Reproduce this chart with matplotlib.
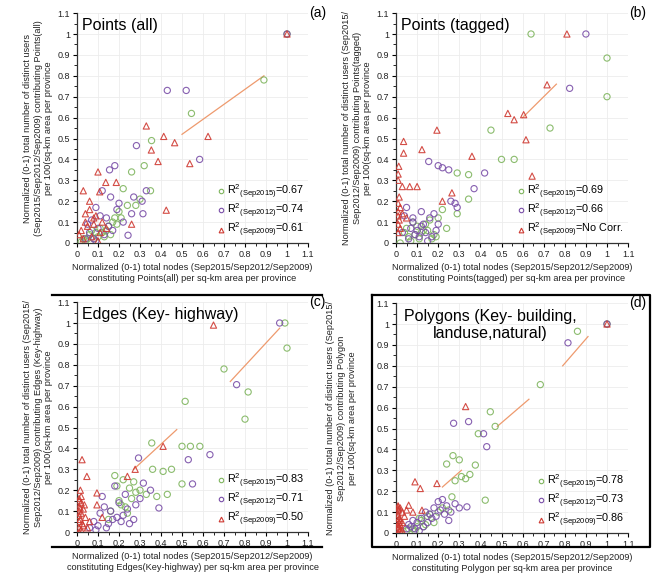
import matplotlib
matplotlib.use("Agg")
import matplotlib.pyplot as plt
from matplotlib.lines import Line2D
import numpy as np

plt.rcParams['font.family'] = ['Liberation Sans', 'DejaVu Sans']
plt.rcParams['mathtext.fontset'] = 'custom'
plt.rcParams['mathtext.rm'] = 'Liberation Sans'
plt.rcParams['mathtext.it'] = 'Liberation Sans'

# ---------------- data ----------------
tick_vals = [0, 0.1, 0.2, 0.3, 0.4, 0.5, 0.6, 0.7, 0.8, 0.9, 1.0, 1.1]
tick_labels = ['0', '0.1', '0.2', '0.3', '0.4', '0.5', '0.6', '0.7', '0.8', '0.9', '1', '1.1']

# Panel (a) Points (all)
a_g_x = [1.0, 0.89, 0.545, 0.355, 0.32, 0.26, 0.22, 0.35, 0.30, 0.28, 0.20, 0.18, 0.15, 0.12, 0.10, 0.08, 0.14, 0.17, 0.21, 0.06, 0.05, 0.11, 0.13, 0.09, 0.04, 0.02, 0.16, 0.24, 0.19, 0.07, 0.03]
a_g_y = [1.0, 0.78, 0.62, 0.49, 0.37, 0.34, 0.26, 0.25, 0.21, 0.18, 0.15, 0.12, 0.08, 0.05, 0.03, 0.02, 0.06, 0.10, 0.12, 0.04, 0.02, 0.07, 0.03, 0.05, 0.01, 0.005, 0.04, 0.18, 0.09, 0.06, 0.02]
a_p_x = [1.0, 0.52, 0.43, 0.283, 0.584, 0.18, 0.155, 0.33, 0.27, 0.31, 0.26, 0.314, 0.243, 0.20, 0.16, 0.12, 0.09, 0.08, 0.14, 0.10, 0.06, 0.05, 0.11, 0.13, 0.22, 0.17, 0.04, 0.07, 0.19, 0.15, 0.09]
a_p_y = [1.0, 0.73, 0.73, 0.466, 0.40, 0.37, 0.35, 0.25, 0.22, 0.20, 0.14, 0.14, 0.037, 0.19, 0.22, 0.25, 0.17, 0.02, 0.12, 0.07, 0.05, 0.09, 0.13, 0.04, 0.10, 0.06, 0.02, 0.11, 0.16, 0.08, 0.01]
a_r_x = [1.0, 0.413, 0.465, 0.33, 0.354, 0.386, 0.624, 0.537, 0.10, 0.03, 0.187, 0.137, 0.108, 0.425, 0.26, 0.06, 0.04, 0.08, 0.12, 0.02, 0.05, 0.07, 0.09, 0.11, 0.03, 0.01, 0.06, 0.14, 0.08, 0.04, 0.10]
a_r_y = [1.0, 0.51, 0.48, 0.56, 0.445, 0.39, 0.51, 0.38, 0.34, 0.25, 0.29, 0.29, 0.245, 0.157, 0.09, 0.20, 0.14, 0.12, 0.10, 0.06, 0.08, 0.03, 0.13, 0.05, 0.02, 0.04, 0.16, 0.07, 0.09, 0.10, 0.01]
a_r2 = ['0.67', '0.74', '0.61']
a_trend_x = [0.50, 0.89]
a_trend_y = [0.52, 0.80]

# Panel (b) Points (tagged)
b_g_x = [0.64, 1.0, 1.0, 0.73, 0.45, 0.50, 0.56, 0.344, 0.344, 0.29, 0.29, 0.15, 0.10, 0.12, 0.08, 0.18, 0.20, 0.14, 0.06, 0.05, 0.11, 0.16, 0.22, 0.09, 0.13, 0.07, 0.04, 0.24, 0.17, 0.19, 0.02]
b_g_y = [1.0, 0.885, 0.70, 0.55, 0.54, 0.40, 0.40, 0.327, 0.21, 0.14, 0.335, 0.06, 0.08, 0.05, 0.10, 0.04, 0.12, 0.09, 0.03, 0.07, 0.02, 0.11, 0.16, 0.04, 0.06, 0.01, 0.05, 0.07, 0.02, 0.03, 0.0]
b_p_x = [0.90, 0.823, 0.42, 0.155, 0.20, 0.22, 0.25, 0.37, 0.28, 0.29, 0.05, 0.04, 0.08, 0.10, 0.12, 0.06, 0.14, 0.16, 0.18, 0.09, 0.11, 0.13, 0.07, 0.15, 0.03, 0.17, 0.20, 0.12, 0.08, 0.26, 0.19]
b_p_y = [1.0, 0.74, 0.335, 0.39, 0.37, 0.36, 0.35, 0.26, 0.19, 0.17, 0.17, 0.13, 0.10, 0.06, 0.08, 0.02, 0.05, 0.12, 0.14, 0.04, 0.03, 0.09, 0.07, 0.01, 0.05, 0.03, 0.09, 0.15, 0.12, 0.20, 0.06]
b_r_x = [0.81, 0.716, 0.605, 0.616, 0.645, 0.53, 0.56, 0.194, 0.036, 0.036, 0.123, 0.36, 0.013, 0.03, 0.065, 0.10, 0.265, 0.22, 0.01, 0.01, 0.015, 0.01, 0.02, 0.01, 0.01, 0.015, 0.01, 0.03, 0.02, 0.01, 0.05]
b_r_y = [1.0, 0.757, 0.614, 0.494, 0.32, 0.62, 0.59, 0.54, 0.486, 0.43, 0.447, 0.415, 0.367, 0.27, 0.27, 0.27, 0.24, 0.20, 0.33, 0.30, 0.22, 0.19, 0.17, 0.15, 0.13, 0.11, 0.09, 0.14, 0.07, 0.05, 0.12]
b_r2 = ['0.69', '0.66', 'No Corr.']
b_trend_x = [0.60, 0.76]
b_trend_y = [0.60, 0.76]

# Panel (c) Edges (Key- highway)
c_g_x = [0.99, 1.0, 0.70, 0.815, 0.80, 0.515, 0.356, 0.50, 0.54, 0.585, 0.36, 0.41, 0.45, 0.50, 0.28, 0.33, 0.38, 0.43, 0.18, 0.19, 0.22, 0.25, 0.20, 0.23, 0.26, 0.16, 0.24, 0.21, 0.27, 0.15, 0.30]
c_g_y = [1.0, 0.88, 0.78, 0.67, 0.54, 0.625, 0.426, 0.41, 0.41, 0.41, 0.30, 0.29, 0.30, 0.23, 0.19, 0.18, 0.17, 0.18, 0.27, 0.22, 0.25, 0.21, 0.15, 0.12, 0.16, 0.10, 0.09, 0.13, 0.24, 0.06, 0.20]
c_p_x = [0.965, 0.76, 0.633, 0.53, 0.293, 0.55, 0.316, 0.39, 0.27, 0.18, 0.12, 0.10, 0.14, 0.16, 0.20, 0.22, 0.25, 0.08, 0.06, 0.13, 0.17, 0.23, 0.28, 0.35, 0.11, 0.15, 0.19, 0.09, 0.24, 0.21, 0.30]
c_p_y = [1.0, 0.705, 0.37, 0.346, 0.354, 0.23, 0.234, 0.115, 0.06, 0.22, 0.17, 0.03, 0.02, 0.10, 0.14, 0.08, 0.04, 0.05, 0.02, 0.12, 0.06, 0.18, 0.13, 0.20, 0.09, 0.04, 0.07, 0.01, 0.11, 0.05, 0.16]
c_r_x = [0.65, 0.41, 0.277, 0.24, 0.024, 0.047, 0.016, 0.095, 0.095, 0.01, 0.02, 0.01, 0.03, 0.01, 0.02, 0.01, 0.04, 0.015, 0.01, 0.025, 0.03, 0.01, 0.02, 0.06, 0.12, 0.05, 0.01, 0.02, 0.035, 0.015, 0.01]
c_r_y = [0.99, 0.41, 0.30, 0.266, 0.346, 0.266, 0.20, 0.187, 0.13, 0.16, 0.14, 0.12, 0.11, 0.10, 0.09, 0.08, 0.07, 0.06, 0.05, 0.04, 0.03, 0.02, 0.01, 0.05, 0.07, 0.02, 0.0, 0.17, 0.13, 0.115, 0.15]
c_r2 = ['0.83', '0.71', '0.50']
c_trend1_x = [0.73, 0.965]
c_trend1_y = [0.72, 0.975]
c_trend2_x = [0.27, 0.475]
c_trend2_y = [0.30, 0.49]

# Panel (d) Polygons
d_g_x = [1.0, 0.86, 0.684, 0.447, 0.47, 0.39, 0.24, 0.27, 0.30, 0.376, 0.28, 0.31, 0.33, 0.35, 0.265, 0.423, 0.20, 0.15, 0.12, 0.10, 0.18, 0.22, 0.08, 0.14, 0.16, 0.05, 0.11, 0.13, 0.06, 0.09, 0.25]
d_g_y = [1.0, 0.965, 0.71, 0.58, 0.51, 0.475, 0.33, 0.37, 0.35, 0.325, 0.25, 0.27, 0.26, 0.28, 0.173, 0.157, 0.10, 0.08, 0.06, 0.03, 0.05, 0.12, 0.02, 0.04, 0.09, 0.01, 0.07, 0.03, 0.02, 0.01, 0.11]
d_p_x = [1.0, 0.815, 0.273, 0.344, 0.415, 0.43, 0.336, 0.30, 0.28, 0.26, 0.24, 0.22, 0.20, 0.18, 0.16, 0.14, 0.12, 0.10, 0.08, 0.06, 0.05, 0.11, 0.13, 0.15, 0.17, 0.19, 0.21, 0.23, 0.25, 0.09, 0.07]
d_p_y = [1.0, 0.91, 0.525, 0.533, 0.475, 0.413, 0.125, 0.12, 0.14, 0.10, 0.13, 0.16, 0.15, 0.12, 0.09, 0.10, 0.07, 0.05, 0.06, 0.04, 0.02, 0.01, 0.03, 0.05, 0.07, 0.08, 0.11, 0.09, 0.06, 0.02, 0.03]
d_r_x = [1.0, 0.33, 0.09, 0.115, 0.194, 0.06, 0.123, 0.01, 0.01, 0.02, 0.01, 0.03, 0.01, 0.015, 0.02, 0.01, 0.04, 0.05, 0.01, 0.02, 0.03, 0.01, 0.015, 0.01, 0.08, 0.02, 0.01, 0.01, 0.03, 0.02, 0.01]
d_r_y = [1.0, 0.605, 0.245, 0.213, 0.237, 0.133, 0.109, 0.125, 0.11, 0.12, 0.09, 0.10, 0.06, 0.05, 0.04, 0.03, 0.08, 0.11, 0.02, 0.01, 0.05, 0.0, 0.07, 0.13, 0.10, 0.02, 0.08, 0.04, 0.01, 0.06, 0.115]
d_r2 = ['0.78', '0.73', '0.86']
d_trend1_x = [0.48, 0.63]
d_trend1_y = [0.51, 0.64]
d_trend2_x = [0.79, 0.91]
d_trend2_y = [0.80, 0.94]
d_trend3_x = [0.22, 0.31]
d_trend3_y = [0.22, 0.30]

years = ['Sep2015', 'Sep2012', 'Sep2009']

GREEN = '#7fb55e'
PURPLE = '#7a4fa8'
RED = '#cf3a32'
TREND = '#ee9a6e'

W, H = 652, 583
fig = plt.figure(figsize=(W / 100, H / 100), dpi=100)


def px_axes(x0, x1_at1, y0, y1_at1):
    sx = x1_at1 - x0
    sy = y0 - y1_at1
    left = x0 / W
    width = 1.1 * sx / W
    bottom = 1 - y0 / H
    height = 1.1 * sy / H
    return fig.add_axes([left, bottom, width, height])


def style(ax, xlabel, ylabel, title, tag, r2, title_kw=None, ylabel_pad=3):
    ax.set_xlim(0, 1.1)
    ax.set_ylim(0, 1.1)
    ax.set_xticks(tick_vals)
    ax.set_yticks(tick_vals)
    ax.set_xticklabels(tick_labels, fontsize=6.5, color='#222222')
    ax.set_yticklabels(tick_labels, fontsize=6.5, color='#222222')
    ax.set_xticks(np.arange(0.05, 1.1, 0.1), minor=True)
    ax.set_yticks(np.arange(0.05, 1.1, 0.1), minor=True)
    ax.tick_params(which='major', length=3, width=0.8, direction='out', pad=2)
    ax.tick_params(which='minor', length=2, width=0.6, direction='out')
    ax.grid(True, which='major', color='#ececec', linewidth=0.6)
    ax.set_axisbelow(True)
    for s in ['top', 'right']:
        ax.spines[s].set_visible(False)
    for s in ['left', 'bottom']:
        ax.spines[s].set_linewidth(0.9)
        ax.spines[s].set_color('#333333')
    ax.set_xlabel(xlabel, fontsize=6.6, labelpad=3, linespacing=1.25, color='#222222')
    ax.set_ylabel(ylabel, fontsize=6.6, labelpad=ylabel_pad, linespacing=1.25, color='#222222')
    kw = dict(fontsize=11.5, ha='left', va='center')
    if title_kw:
        kw.update(title_kw)
        ax.text(s=title, transform=ax.transAxes, **kw)
    else:
        ax.text(0.02, 0.945, title, transform=ax.transAxes, **kw)
    ax.text(1.04, 1.0, tag, transform=ax.transAxes, fontsize=10, ha='center', va='center')
    handles = [
        Line2D([], [], marker='o', linestyle='none', markersize=3.2, markerfacecolor='none',
               markeredgecolor=GREEN, markeredgewidth=0.8),
        Line2D([], [], marker='o', linestyle='none', markersize=3.2, markerfacecolor='none',
               markeredgecolor=PURPLE, markeredgewidth=0.8),
        Line2D([], [], marker='^', linestyle='none', markersize=3.4, markerfacecolor='none',
               markeredgecolor=RED, markeredgewidth=0.8),
    ]
    labels = [r'R$^{2}$$_{\mathrm{(%s)}}$=%s' % (yr, v) for yr, v in zip(years, r2)]
    ax.legend(handles, labels, loc='lower right', frameon=False, fontsize=7.8,
              handlelength=0.6, handletextpad=0.25, labelspacing=0.1,
              borderaxespad=0.15, borderpad=0.2)


def scatter_all(ax, gx, gy, px, py, rx, ry):
    ax.scatter(gx, gy, s=20, facecolors='none', edgecolors=GREEN, linewidths=0.8, alpha=0.9, zorder=3)
    ax.scatter(px, py, s=20, facecolors='none', edgecolors=PURPLE, linewidths=0.8, alpha=0.9, zorder=3)
    ax.scatter(rx, ry, s=20, marker='^', facecolors='none', edgecolors=RED, linewidths=0.8, alpha=0.9, zorder=3)


# (a)
ax_a = px_axes(77, 287, 243, 34)
ax_a.plot(a_trend_x, a_trend_y, color=TREND, linewidth=0.9, zorder=2)
scatter_all(ax_a, a_g_x, a_g_y, a_p_x, a_p_y, a_r_x, a_r_y)
style(ax_a,
      'Normalized (0-1) total nodes (Sep2015/Sep2012/Sep2009)\nconstituting Points(all) per sq-km area per province',
      'Normalized (0-1) total number of distinct users\n(Sep2015/Sep2012/Sep2009) contributing Points(all)\nper 100(sq-km area per province',
      'Points (all)', '(a)', a_r2)

# (b)
ax_b = px_axes(396, 607, 243, 34)
ax_b.plot(b_trend_x, b_trend_y, color=TREND, linewidth=0.9, zorder=2)
scatter_all(ax_b, b_g_x, b_g_y, b_p_x, b_p_y, b_r_x, b_r_y)
style(ax_b,
      'Normalized (0-1) total nodes (Sep2015/Sep2012/Sep2009)\nconstituting Points(tagged) per sq-km area per province',
      'Normalized (0-1) total number of distinct users (Sep2015/\nSep2012/Sep2009) contributing Points(tagged)\nper 100(sq-km area per province',
      'Points (tagged)', '(b)', b_r2)

# (c)
ax_c = px_axes(77, 287, 532, 323)
ax_c.plot(c_trend1_x, c_trend1_y, color=TREND, linewidth=0.9, zorder=2)
ax_c.plot(c_trend2_x, c_trend2_y, color=TREND, linewidth=0.9, zorder=2)
scatter_all(ax_c, c_g_x, c_g_y, c_p_x, c_p_y, c_r_x, c_r_y)
style(ax_c,
      'Normalized (0-1) total nodes (Sep2015/Sep2012/Sep2009)\nconstituting Edges(Key-highway) per sq-km area per province',
      'Normalized (0-1) total number of distinct users (Sep2015/\nSep2012/Sep2009) contributing Edges (Key-highway)\nper 100(sq-km area per province',
      'Edges (Key- highway)', '(c)', c_r2)

# (d)
ax_d = px_axes(396, 607, 533, 324)
for tx, ty in [(d_trend1_x, d_trend1_y), (d_trend2_x, d_trend2_y), (d_trend3_x, d_trend3_y)]:
    ax_d.plot(tx, ty, color=TREND, linewidth=0.9, zorder=2)
scatter_all(ax_d, d_g_x, d_g_y, d_p_x, d_p_y, d_r_x, d_r_y)
style(ax_d,
      'Normalized (0-1) total nodes (Sep2015/Sep2012/Sep2009)\nconstituting Polygon per sq-km area per province',
      'Normalized (0-1) total number of distinct users (Sep2015/\nSep2012/Sep2009) contributing Polygon\nper 100(sq-km area per province',
      'Polygons (Key- building,\nlanduse,natural)', '(d)', d_r2,
      title_kw=dict(x=0.405, y=0.905, ha='center', va='center', linespacing=1.15),
      ylabel_pad=14)

# frame lines around the lower panels
lw = 1.6
fig.add_artist(Line2D([52 / W, 322 / W], [1 - 295 / H, 1 - 295 / H], color='black', linewidth=lw))
fig.add_artist(Line2D([52 / W, 322 / W], [1 - 547 / H, 1 - 547 / H], color='black', linewidth=lw))
fig.add_artist(Line2D([372 / W, 650 / W, 650 / W, 372 / W, 372 / W],
                      [1 - 295 / H, 1 - 295 / H, 1 - 547 / H, 1 - 547 / H, 1 - 295 / H],
                      color='black', linewidth=lw))

fig.savefig('out.png', dpi=100)
